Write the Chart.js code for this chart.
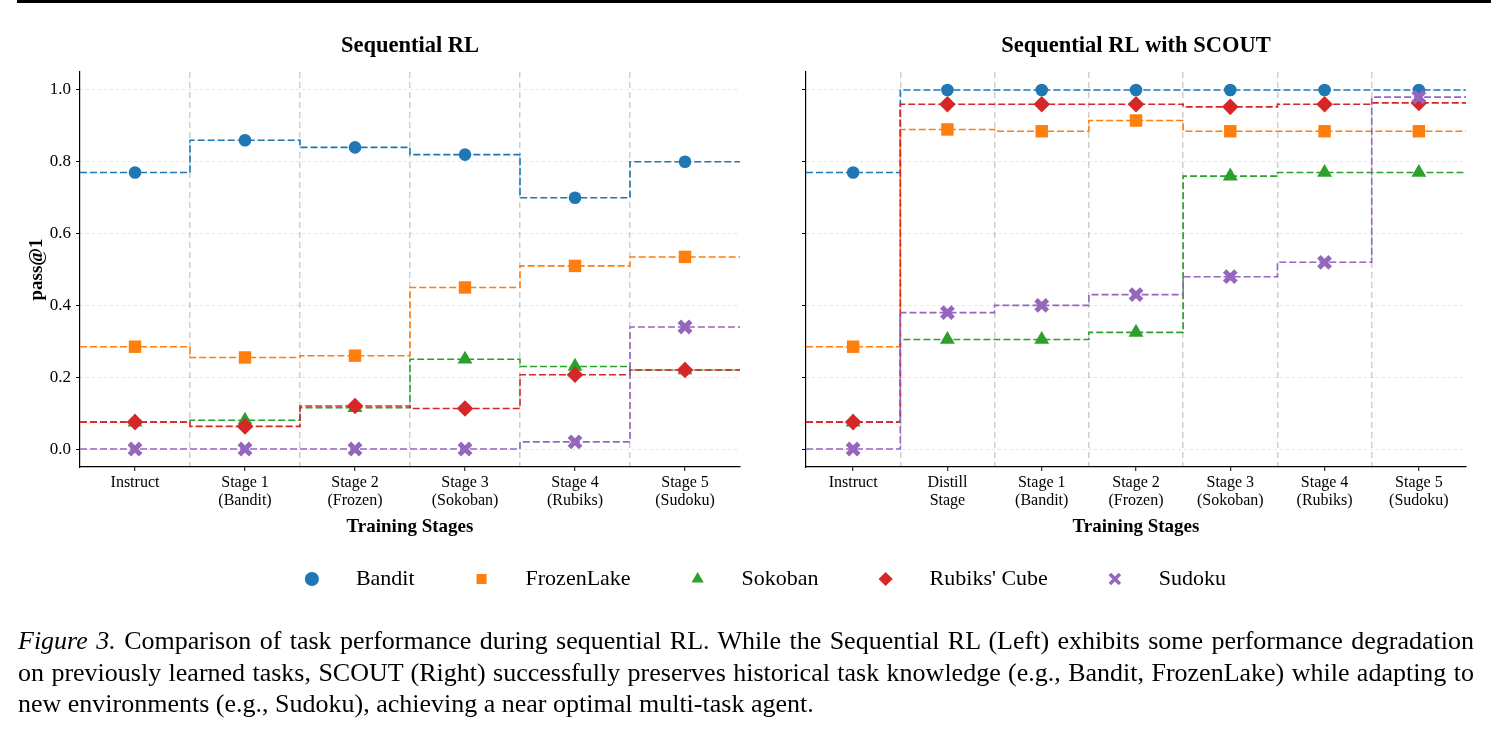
<!DOCTYPE html>
<html>
<head>
<meta charset="utf-8">
<script src="https://cdn.jsdelivr.net/npm/chart.js@4.4.1/dist/chart.umd.min.js"></script>
<style>
  html, body { margin: 0; padding: 0; background: #fff; }
  body { width: 1491px; height: 734px; position: relative; overflow: hidden; font-family: 'Liberation Serif', 'Times New Roman', serif; }
  #topRule { position: absolute; left: 17px; right: 0; top: 0; height: 3px; background: #000; }
  canvas { position: absolute; }
  #leftChart { left: 0; top: 0; }
  #rightChart { left: 760px; top: 0; }
  #legendChart { left: 36px; top: 512px; }
  #caption { position: absolute; left: 18px; top: 625px; width: 1456px; font-size: 26px; line-height: 31.5px; color: #000; }
  #caption div { text-align: justify; text-align-last: justify; word-spacing: -1.5px; }
  #caption div.last { text-align-last: left; word-spacing: 0; }
</style>
</head>
<body>
<div id="topRule"></div>
<canvas id="leftChart" width="760" height="538"></canvas>
<canvas id="rightChart" width="731" height="538"></canvas>
<canvas id="legendChart" width="1455" height="220"></canvas>
<div id="caption">
  <div><i>Figure 3.</i> Comparison of task performance during sequential RL. While the Sequential RL (Left) exhibits some performance degradation</div>
  <div>on previously learned tasks, SCOUT (Right) successfully preserves historical task knowledge (e.g., Bandit, FrozenLake) while adapting to</div>
  <div class="last">new environments (e.g., Sudoku), achieving a near optimal multi-task agent.</div>
</div>
<script>
// series
const seriesNames = ['Bandit', 'FrozenLake', 'Sokoban', "Rubiks' Cube", 'Sudoku'];
const seriesColors = ['#1f77b4', '#ff7f0e', '#2ca02c', '#d62728', '#9467bd'];
const markerStyles = ['circle', 'rect', 'triangle', 'rectRot', 'crossRot'];
const markerRadius = [6.3, 8.8, 8.6, 8.3, 8];

// left panel: Sequential RL
const leftStages = [['Instruct'], ['Stage 1', '(Bandit)'], ['Stage 2', '(Frozen)'], ['Stage 3', '(Sokoban)'], ['Stage 4', '(Rubiks)'], ['Stage 5', '(Sudoku)']];
const leftBandit = [0.77, 0.86, 0.84, 0.82, 0.70, 0.80];
const leftFrozen = [0.285, 0.255, 0.26, 0.45, 0.51, 0.535];
const leftSokoban = [0.075, 0.08, 0.115, 0.25, 0.23, 0.22];
const leftRubiks = [0.075, 0.063, 0.12, 0.113, 0.207, 0.22];
const leftSudoku = [0, 0, 0, 0, 0.02, 0.34];

// right panel: Sequential RL with SCOUT
const rightStages = [['Instruct'], ['Distill', 'Stage'], ['Stage 1', '(Bandit)'], ['Stage 2', '(Frozen)'], ['Stage 3', '(Sokoban)'], ['Stage 4', '(Rubiks)'], ['Stage 5', '(Sudoku)']];
const rightBandit = [0.77, 1.0, 1.0, 1.0, 1.0, 1.0, 1.0];
const rightFrozen = [0.285, 0.89, 0.885, 0.915, 0.885, 0.885, 0.885];
const rightSokoban = [0.075, 0.305, 0.305, 0.325, 0.76, 0.77, 0.77];
const rightRubiks = [0.075, 0.96, 0.96, 0.96, 0.953, 0.96, 0.964];
const rightSudoku = [0, 0.38, 0.40, 0.43, 0.48, 0.52, 0.98];

const yTicks = [0, 0.2, 0.4, 0.6, 0.8, 1.0];

Chart.defaults.font.family = "'Liberation Serif', 'Times New Roman', serif";
Chart.defaults.color = '#000';

function buildDatasets(seriesValues) {
  const sets = [];
  seriesValues.forEach((vals, k) => {
    const n = vals.length;
    // extend first/last value to the panel edges, steps centred on each stage
    const steps = [{x: -0.5, y: vals[0]}].concat(vals.map((v, i) => ({x: i, y: v})), [{x: n - 0.5, y: vals[n - 1]}]);
    sets.push({
      label: seriesNames[k] + ' line',
      data: steps,
      stepped: 'middle',
      borderColor: seriesColors[k],
      borderWidth: 1.6,
      borderDash: [7, 3],
      pointRadius: 0,
      fill: false,
      order: 20 - 2 * k
    });
    sets.push({
      label: seriesNames[k],
      data: vals.map((v, i) => ({x: i, y: v})),
      showLine: false,
      pointStyle: markerStyles[k],
      pointRadius: markerRadius[k],
      pointHoverRadius: markerRadius[k],
      pointBackgroundColor: seriesColors[k],
      pointBorderColor: seriesColors[k],
      pointBorderWidth: markerStyles[k] === 'crossRot' ? 5 : 0,
      order: 19 - 2 * k
    });
  });
  return sets;
}

function makePanel(canvasId, title, stages, seriesValues, showYLabels, yWidth, padRight) {
  const n = stages.length;
  return new Chart(document.getElementById(canvasId), {
    type: 'line',
    data: { datasets: buildDatasets(seriesValues) },
    options: {
      responsive: false,
      animation: false,
      layout: { padding: { right: padRight } },
      plugins: { legend: { display: false }, tooltip: { enabled: false } },
      scales: {
        x: {
          type: 'linear',
          position: 'bottom',
          min: -0.5,
          max: n - 0.5,
          afterBuildTicks: axis => {
            const t = [];
            for (let i = 0; i < n; i++) {
              t.push({value: i});
              if (i < n - 1) t.push({value: i + 0.5});
            }
            axis.ticks = t;
          },
          afterFit: axis => { axis.height = 71; },
          ticks: {
            autoSkip: false,
            maxRotation: 0,
            padding: 3,
            font: { size: 16, lineHeight: 1.1 },
            callback: v => Number.isInteger(v) ? stages[v] : ''
          },
          grid: {
            color: ctx => Number.isInteger(ctx.tick.value) ? 'rgba(0,0,0,0)' : '#cfcfcf',
            lineWidth: 1.5,
            tickColor: ctx => Number.isInteger(ctx.tick.value) ? '#000' : 'rgba(0,0,0,0)',
            tickLength: 4,
            tickWidth: 1
          },
          border: { display: true, color: '#000', width: 1.2, dash: [6, 4] },
          title: { display: true, text: 'Training Stages', font: { size: 19, weight: 'bold' }, padding: { top: 0, bottom: 0 } }
        },
        top: {
          type: 'linear',
          position: 'top',
          display: true,
          afterFit: axis => { axis.height = 72; },
          ticks: { display: false },
          grid: { display: false },
          border: { display: false },
          title: { display: true, text: title, font: { size: 22.5, weight: 'bold' }, padding: { top: 33, bottom: 0 } }
        },
        y: {
          min: -0.05,
          max: 1.05,
          afterBuildTicks: axis => { axis.ticks = yTicks.map(v => ({value: v})); },
          afterFit: axis => { axis.width = yWidth; },
          ticks: {
            display: showYLabels,
            padding: 5,
            font: { size: 17 },
            callback: v => v.toFixed(1)
          },
          grid: {
            color: 'rgba(0,0,0,0.13)',
            lineWidth: 0.8,
            tickColor: '#000',
            tickLength: 4,
            tickWidth: 1
          },
          border: { display: true, color: '#000', width: 1.2, dash: [3, 3] },
          title: { display: showYLabels, text: 'pass@1', font: { size: 19, weight: 'bold' }, padding: { top: 25.6, bottom: 0 } }
        }
      }
    }
  });
}

makePanel('leftChart', 'Sequential RL', leftStages,
  [leftBandit, leftFrozen, leftSokoban, leftRubiks, leftSudoku], true, 80, 20);
makePanel('rightChart', 'Sequential RL with SCOUT', rightStages,
  [rightBandit, rightFrozen, rightSokoban, rightRubiks, rightSudoku], false, 46, 25);

// shared legend under both panels
new Chart(document.getElementById('legendChart'), {
  type: 'scatter',
  data: {
    datasets: seriesNames.map((name, k) => ({
      label: name,
      data: [],
      pointStyle: markerStyles[k],
      backgroundColor: seriesColors[k],
      borderColor: seriesColors[k],
      borderWidth: markerStyles[k] === 'crossRot' ? 3.5 : 0
    }))
  },
  options: {
    responsive: false,
    animation: false,
    scales: { x: { display: false }, y: { display: false } },
    plugins: {
      tooltip: { enabled: false },
      legend: {
        display: true,
        position: 'top',
        maxHeight: 150,
        labels: {
          usePointStyle: true,
          boxHeight: 10,
          padding: 56,
          color: '#000',
          font: { size: 22 },
          generateLabels: chart => Chart.defaults.plugins.legend.labels.generateLabels(chart)
            .map(item => Object.assign(item, { text: '    ' + item.text }))
        }
      }
    }
  }
});
</script>
</body>
</html>
